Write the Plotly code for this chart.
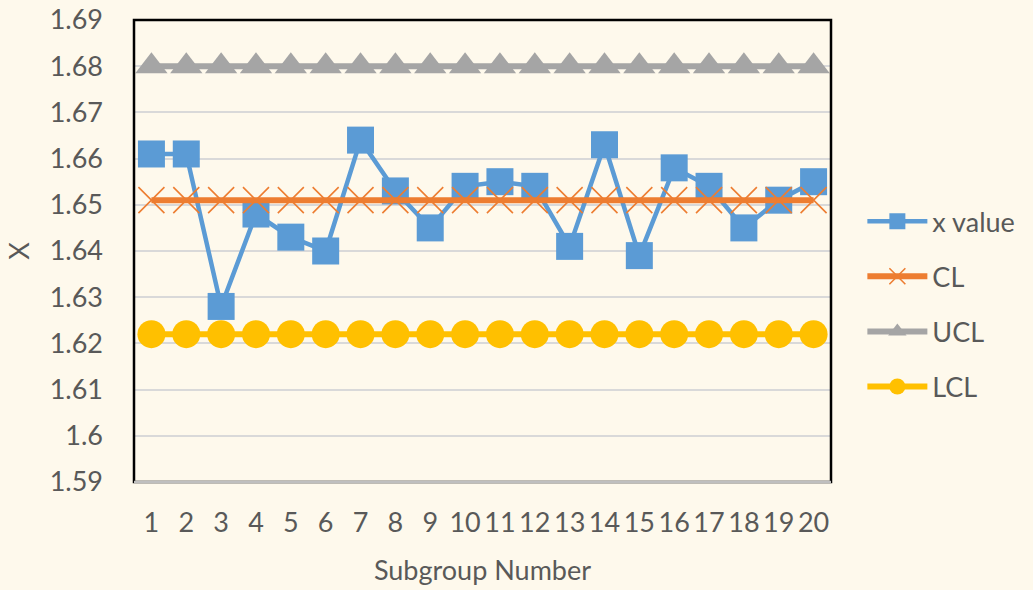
import plotly.graph_objects as go

subgroups = list(range(1, 21))
x_value = [1.661, 1.661, 1.628, 1.648, 1.643, 1.640, 1.664, 1.653, 1.645, 1.654,
           1.655, 1.654, 1.641, 1.663, 1.639, 1.658, 1.654, 1.645, 1.651, 1.655]
cl = [1.651] * 20
ucl = [1.68] * 20
lcl = [1.622] * 20

BG = "#FEF9EC"
TXT = "#595959"
FONT = "Lato, 'Open Sans', sans-serif"
FS = 27

fig = go.Figure()
fig.add_trace(go.Scatter(x=subgroups, y=x_value, name="x value", mode="lines+markers",
                         line=dict(color="#5B9BD5", width=4.5),
                         marker=dict(symbol="square", size=27, color="#5B9BD5"),
                         legendgroup="a"))
fig.add_trace(go.Scatter(x=subgroups, y=cl, name="CL", mode="lines+markers",
                         line=dict(color="#ED7D31", width=6),
                         marker=dict(symbol="x-thin", size=26, color="#ED7D31",
                                     line=dict(color="#ED7D31", width=1.6)),
                         legendgroup="b"))
fig.add_trace(go.Scatter(x=subgroups, y=ucl, name="UCL", mode="lines+markers",
                         line=dict(color="#A5A5A5", width=6),
                         marker=dict(symbol="triangle-up", size=28, color="#A5A5A5"),
                         legendgroup="c"))
fig.add_trace(go.Scatter(x=subgroups, y=lcl, name="LCL", mode="lines+markers",
                         line=dict(color="#FFC000", width=6),
                         marker=dict(symbol="circle", size=28, color="#FFC000"),
                         legendgroup="d"))

fig.update_layout(
    width=1033, height=590,
    paper_bgcolor=BG, plot_bgcolor=BG,
    margin=dict(l=134, r=202, t=20, b=108, autoexpand=False),
    font=dict(family=FONT, size=FS, color=TXT),
    legend=dict(x=1.045, y=0.385, xanchor="left", yanchor="middle",
                font=dict(size=FS, color=TXT), tracegroupgap=17,
                itemwidth=60, bgcolor="rgba(0,0,0,0)"),
    xaxis=dict(range=[0.5, 20.5], tickmode="array", tickvals=subgroups,
               ticktext=[str(s) for s in subgroups], showgrid=False, automargin=False,
               ticks="", ticklabelstandoff=22, tickfont=dict(size=FS, color=TXT),
               title=dict(text="Subgroup Number", font=dict(size=FS, color=TXT), standoff=24),
               showline=False, zeroline=False),
    yaxis=dict(range=[1.59, 1.69], dtick=0.01, tickformat="", showgrid=True,
               gridcolor="#D9D9D9", gridwidth=1.5, ticks="", ticklabelstandoff=30,
               automargin=False,
               tickfont=dict(size=FS, color=TXT),
               title=dict(text="X", font=dict(size=FS, color=TXT), standoff=12),
               showline=False, zeroline=False),
)

# plot-area border (black) and gray category axis line
fig.add_shape(type="rect", xref="paper", yref="paper", x0=0, x1=1, y0=0, y1=1,
              line=dict(color="black", width=2.5), layer="above")
fig.add_shape(type="line", xref="paper", yref="paper", x0=0, x1=1, y0=0, y1=0,
              line=dict(color="#BFBFBF", width=2.5), layer="above")

fig.write_html("out.html", config={"displayModeBar": False},
               post_script="document.body.style.margin='0';document.body.style.overflow='hidden';")
